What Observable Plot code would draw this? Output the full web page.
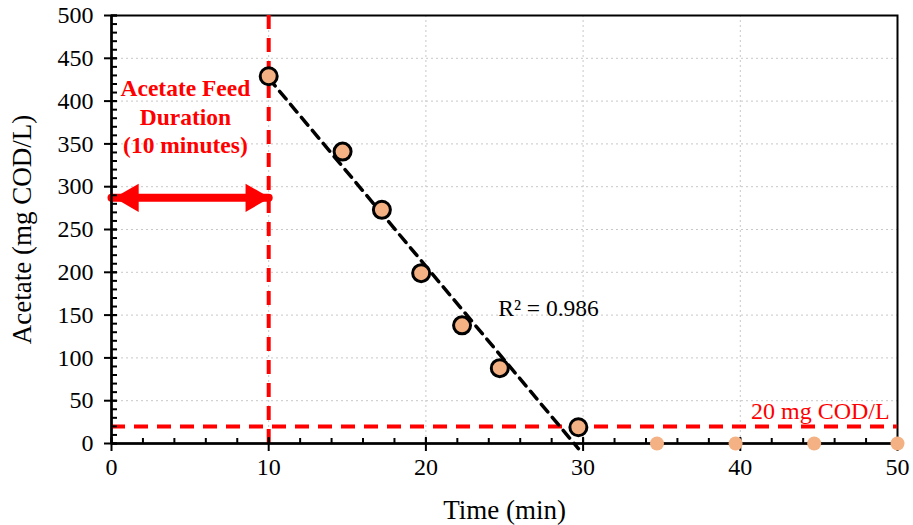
<!DOCTYPE html>
<html>
<head>
<meta charset="utf-8">
<script src="https://cdn.jsdelivr.net/npm/d3@7"></script>
<script src="https://cdn.jsdelivr.net/npm/@observablehq/plot@0.6"></script>
<style>
  html, body { margin: 0; padding: 0; background: #fff; }
</style>
</head>
<body>
<div id="chart"></div>
<script>
// Measured acetate decline after feed
const times = [10, 14.7, 17.2, 19.7, 22.3, 24.7, 29.7];
const acetate = [429, 341, 273, 199, 138, 88, 19];
// Below-detection samples
const tailTimes = [34.7, 39.7, 44.7, 50];
const tailAcetate = [0, 0, 0, 0];
// Reference values
const feedEnd = 10;
const feedStart = 0;
const threshold = 20;
const arrowLevel = 287;
// Ticks
const xTicks = [0, 10, 20, 30, 40, 50];
const xMinor = d3.range(0, 51, 2);
const yTicks = d3.range(0, 501, 50);
const yMinor = d3.range(0, 501, 10);
// Texts
const feedLabel = "Acetate Feed\nDuration\n(10 minutes)";
const feedLabelPos = {x: 4.7, y: 383};
const r2Label = "R² = 0.986";
const r2Pos = {x: 27.8, y: 158};
const thresholdLabel = "20 mg COD/L";
const thresholdPos = {x: 49.5, y: 38};
const xLabel = "Time (min)";
const yLabel = "Acetate (mg COD/L)";

const data = times.map((t, i) => ({t, a: acetate[i]}));
const tail = tailTimes.map((t, i) => ({t, a: tailAcetate[i]}));
const peach = "#F4B183";
const red = "#FF0000";
const blank = () => "";

const chart = Plot.plot({
  width: 913,
  height: 525,
  marginLeft: 111,
  marginRight: 16,
  marginTop: 15,
  marginBottom: 82,
  style: {fontFamily: "'Liberation Serif', 'Times New Roman', serif", fontSize: "24px", color: "black", background: "white"},
  x: {domain: [0, 50]},
  y: {domain: [0, 500]},
  marks: [
    Plot.gridX(xTicks.slice(1, -1), {stroke: "#c8c8c8", strokeOpacity: 1, strokeDasharray: "2,3"}),
    Plot.gridY(yTicks.slice(1, -1), {stroke: "#c8c8c8", strokeOpacity: 1, strokeDasharray: "2,3"}),
    Plot.frame({stroke: "black", strokeWidth: 2}),
    // threshold and feed-end lines
    Plot.ruleY([threshold], {stroke: red, strokeWidth: 4, strokeDasharray: "14,9"}),
    Plot.ruleX([feedEnd], {stroke: red, strokeWidth: 4, strokeDasharray: "14,9"}),
    // double arrow
    Plot.line([{x: feedStart, y: arrowLevel}, {x: feedEnd, y: arrowLevel}], {x: "x", y: "y", stroke: red, strokeWidth: 8, clip: false}),
    Plot.dot([{x: feedEnd, y: arrowLevel}], {x: "x", y: "y", symbol: "triangle", r: 10.5, fill: red, rotate: 90, dx: -15}),
    Plot.dot([{x: feedStart, y: arrowLevel}], {x: "x", y: "y", symbol: "triangle", r: 10.5, fill: red, rotate: -90, dx: 19}),
    // regression
    Plot.linearRegressionY(data, {x: "t", y: "a", ci: 0, stroke: "black", strokeWidth: 3.5, strokeDasharray: "10,7"}),
    // axes
    Plot.axisY(yTicks, {tickSize: 7, tickPadding: 11, label: null, strokeWidth: 2, fontSize: 24}),
    Plot.axisY(yTicks, {tickSize: -6, tickFormat: blank, label: null, strokeWidth: 2}),
    Plot.axisY(yMinor, {tickSize: -6, tickFormat: blank, label: null, strokeWidth: 2}),
    Plot.axisX(xTicks, {tickSize: 8, tickPadding: 6, label: null, strokeWidth: 2, fontSize: 24}),
    Plot.axisX(xTicks, {tickSize: -6, tickFormat: blank, label: null, strokeWidth: 2}),
    Plot.axisX(xMinor, {tickSize: -5, tickFormat: blank, label: null, strokeWidth: 2}),
    Plot.ruleY([0], {stroke: "black", strokeWidth: 2.5}),
    Plot.ruleX([0], {stroke: "black", strokeWidth: 2.5}),
    // points
    Plot.dot(data, {x: "t", y: "a", r: 8.5, fill: peach, stroke: "black", strokeWidth: 3}),
    Plot.dot(tail, {x: "t", y: "a", r: 7, fill: peach}),
    // texts
    Plot.text([feedLabel], {x: feedLabelPos.x, y: feedLabelPos.y, fill: red, fontWeight: "bold", fontSize: 23.5, lineHeight: 1.2}),
    Plot.text([r2Label], {x: r2Pos.x, y: r2Pos.y, fill: "black", fontSize: 23.5}),
    Plot.text([thresholdLabel], {x: thresholdPos.x, y: thresholdPos.y, fill: red, fontSize: 24, textAnchor: "end"}),
    Plot.text([xLabel], {frameAnchor: "bottom", dy: 67, lineAnchor: "middle", textAnchor: "middle", fontSize: 27}),
    Plot.text([yLabel], {frameAnchor: "left", dx: -89, rotate: -90, textAnchor: "middle", lineAnchor: "middle", fontSize: 27})
  ]
});
document.getElementById("chart").appendChild(chart);
</script>
</body>
</html>
